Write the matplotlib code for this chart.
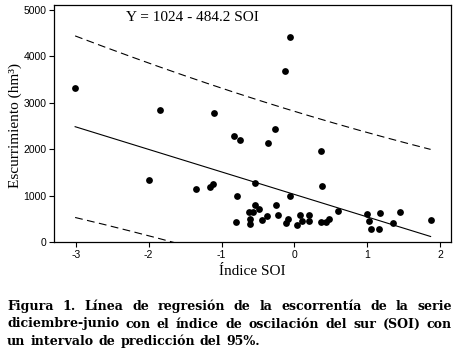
import numpy as np
import matplotlib
matplotlib.use("Agg")
import matplotlib.pyplot as plt

plt.rcParams["axes.unicode_minus"] = False

# SOI index vs runoff (hm3)
soi = [-3.01, -1.85, -1.10, -0.83, -0.74, -0.26, -0.36, -0.06, -0.13, 0.36,
       -1.99, -1.35, -1.16, -1.12, -0.79, -0.54, -0.06, 0.38, -0.54, -0.62,
       -0.57, -0.48, -0.25, -0.80, -0.61, -0.61, -0.45, -0.38, -0.22, -0.12,
       -0.09, 0.04, 0.08, 0.11, 0.20, 0.20, 0.36, 0.44, 0.47, 0.60,
       0.99, 1.02, 1.05, 1.16, 1.18, 1.35, 1.45, 1.87]
runoff = [3310, 2845, 2770, 2285, 2190, 2425, 2130, 4415, 3685, 1950,
          1330, 1150, 1190, 1255, 1000, 1280, 1000, 1200, 800, 645,
          645, 700, 800, 420, 495, 390, 470, 565, 580, 410,
          500, 365, 580, 445, 580, 445, 440, 440, 500, 675,
          600, 450, 290, 290, 625, 415, 640, 465]

intercept = 1024
slope = -484.2
t_975 = 2.013  # t value for 95% prediction interval

x_ticks = [-3, -2, -1, 0, 1, 2]
y_ticks = [0, 1000, 2000, 3000, 4000, 5000]

caption_lines = [
    "Figura 1. Línea de regresión de la escorrentía de la serie",
    "diciembre-junio con el índice de oscilación del sur (SOI) con",
    "un intervalo de predicción del 95%.",
]

W, H = 459, 357
fig = plt.figure(figsize=(W / 100, H / 100), dpi=100)
ax = fig.add_axes([54 / W, 1 - 242 / H, (451 - 54) / W, (242 - 5) / H])

x = np.array(soi)
y = np.array(runoff)
ax.scatter(x, y, s=24, color="black", zorder=3, linewidths=0)

# regression line and 95% prediction interval
xs = np.linspace(x.min(), x.max(), 200)
fit = intercept + slope * xs
resid = y - (intercept + slope * x)
n = len(x)
s = np.sqrt(np.sum(resid ** 2) / (n - 2))
sxx = np.sum((x - x.mean()) ** 2)
half = t_975 * s * np.sqrt(1 + 1 / n + (xs - x.mean()) ** 2 / sxx)

ax.plot(xs, fit, color="black", lw=0.8)
ax.plot(xs, fit + half, color="black", lw=0.8, linestyle=(0, (7, 4)))
ax.plot(xs, fit - half, color="black", lw=0.8, linestyle=(0, (7, 4)))

ax.set_xlim(-3.30, 2.15)
ax.set_ylim(0, 5100)
ax.set_xticks(x_ticks)
ax.set_yticks(y_ticks)
ax.tick_params(direction="out", length=3.5, width=0.8, pad=2, labelsize=7.5)
for lab in ax.get_xticklabels() + ax.get_yticklabels():
    lab.set_family("Liberation Sans")
for sp in ax.spines.values():
    sp.set_linewidth(0.9)

serif = "Liberation Serif"
ax.set_xlabel("Índice SOI", family=serif, fontsize=11, labelpad=4)
ax.set_ylabel("Escurrimiento (hm³)", family=serif, fontsize=11)
ax.yaxis.label.set_va("center")
ax.yaxis.set_label_coords((15 - 54) / 397, 0.49)
ax.text(-1.40, 4840, "Y = 1024 - 484.2 SOI", family=serif, fontsize=11,
        ha="center", va="center")

# justified bold caption
fig.canvas.draw()
renderer = fig.canvas.get_renderer()
x0, x1 = 7, 452
baselines = [310, 327.5, 345]
for i, line in enumerate(caption_lines):
    words = line.split(" ")
    texts = [fig.text(0, 1 - baselines[i] / H, w, family="DejaVu Serif",
                      weight="bold", fontsize=9.1, va="baseline", ha="left")
             for w in words]
    widths = [t.get_window_extent(renderer).width for t in texts]
    if i < len(caption_lines) - 1:
        gap = (x1 - x0 - sum(widths)) / (len(words) - 1)
    else:
        gap = 5
    pos = x0
    for t, w in zip(texts, widths):
        t.set_x(pos / W)
        pos += w + gap

fig.savefig("out.png", dpi=100)
